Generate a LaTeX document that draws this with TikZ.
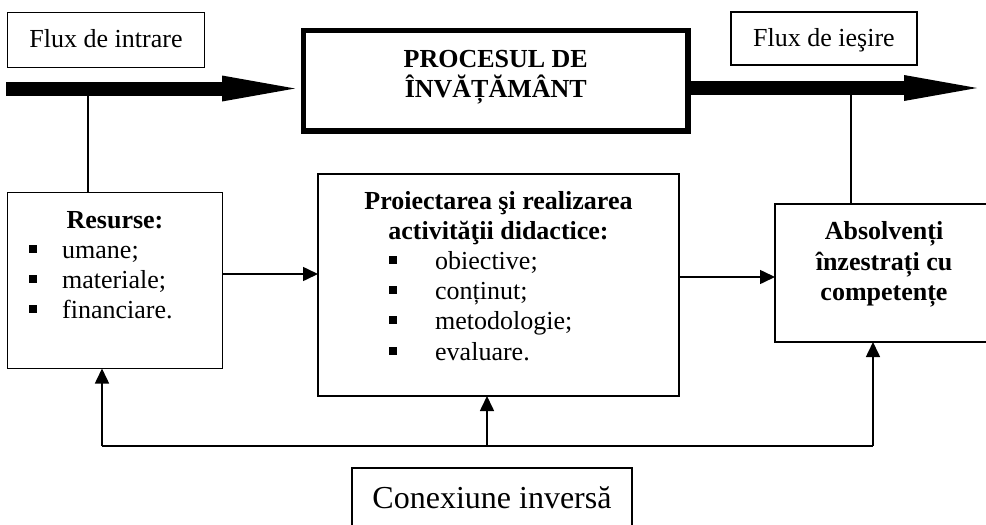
\documentclass[tikz,border=0pt]{standalone}
\usepackage{fontspec}
\setmainfont{Liberation Serif}
\usetikzlibrary{arrows.meta}
\newcommand\sqbul{\rule[5.5pt]{7.5pt}{7.5pt}}
\begin{document}
\begin{tikzpicture}[x=1pt,y=-1pt,
  box/.style={draw,line width=1.6pt,inner sep=0pt,outer sep=0pt},
  bigbox/.style={draw,line width=5.5pt,inner sep=0pt,outer sep=0pt},
  txt/.style={font=\fontsize{26}{30}\selectfont,inner sep=0pt,anchor=base},
  btxt/.style={font=\fontsize{26}{30}\selectfont\bfseries,inner sep=0pt,anchor=base},
  ltxt/.style={font=\fontsize{26}{30}\selectfont,inner sep=0pt,anchor=base west},
  bul/.style={inner sep=0pt,anchor=base west},
  thin/.style={line width=1.6pt},
  arr/.style={line width=1.6pt,-{Triangle[length=15pt,width=14pt]}},
  bigarr/.style={line width=14pt,-{Triangle[length=73pt,width=26pt,line width=0pt]}}]
\useasboundingbox (0,0) rectangle (986,525);

% boxes
\node[box,minimum width=197pt,minimum height=55pt] (fin) at (106,40) {};
\node[box,minimum width=186pt,minimum height=53pt] (fout) at (824,38.5) {};
\node[bigbox,minimum width=384.5pt,minimum height=100.5pt] (proc) at (495.75,80.75) {};
\node[box,minimum width=215pt,minimum height=176pt] (res) at (115,280.5) {};
\node[box,minimum width=361pt,minimum height=222pt] (proj) at (498.5,285) {};
\node[box,minimum width=218pt,minimum height=138pt] (abs) at (884,273) {};
\node[box,minimum width=280pt,minimum height=82pt] (conex) at (492,509) {};

% texts
\node[txt] (tfin) at (106,47) {Flux de intrare};
\node[txt] (tfout) at (824,46) {Flux de ieşire};
\node[btxt] (tp1) at (495.75,67) {PROCESUL DE};
\node[btxt] (tp2) at (495.75,97) {ÎNVĂȚĂMÂNT};

\node[btxt] (tr0) at (115,228) {Resurse:};
\node[bul] (br1) at (29,258) {\sqbul};
\node[ltxt] (tr1) at (62,258) {umane;};
\node[bul] (br2) at (29,288) {\sqbul};
\node[ltxt] (tr2) at (62,288) {materiale;};
\node[bul] (br3) at (29,318) {\sqbul};
\node[ltxt] (tr3) at (62,318) {financiare.};

\node[btxt] (tj1) at (498.5,209) {Proiectarea şi realizarea};
\node[btxt] (tj2) at (498.5,239) {activităţii didactice:};
\node[bul] (bj1) at (389,269) {\sqbul};
\node[ltxt] (tj3) at (435,269) {obiective;};
\node[bul] (bj2) at (389,299) {\sqbul};
\node[ltxt] (tj4) at (435,299) {conținut;};
\node[bul] (bj3) at (389,329) {\sqbul};
\node[ltxt] (tj5) at (435,329) {metodologie;};
\node[bul] (bj4) at (389,360) {\sqbul};
\node[ltxt] (tj6) at (435,360) {evaluare.};

\node[btxt] (ta1) at (884,239) {Absolvenți};
\node[btxt] (ta2) at (884,270) {înzestrați cu};
\node[btxt] (ta3) at (884,300) {competențe};

\node[inner sep=0pt,anchor=base,font=\fontsize{32}{36}\selectfont] (tc) at (492,508) {Conexiune inversă};

% thick flow arrows
\coordinate (start) at (6,88.5);
\coordinate (fend) at (977,88);
\draw[bigarr,shorten >=8.5pt] (start) -- (start -| proc.west);
\draw[bigarr] (proc.east |- fend) -- (fend);

% vertical links to the flow
\coordinate (j1) at (88,95);
\draw[thin] (j1) -- (j1 |- res.north);
\coordinate (j2) at (851,94);
\draw[thin] (j2) -- (j2 |- abs.north);

% horizontal arrows
\draw[arr] (res.east |- 0,274) -- (proj.west |- 0,274);
\draw[arr] (proj.east |- 0,277) -- (abs.west |- 0,277);

% feedback
\coordinate (fbL) at (102,446);
\coordinate (fbM) at (487,446);
\coordinate (fbR) at (873,446);
\draw[thin] (fbL) -- (fbR);
\draw[arr] (fbL) -- (fbL |- res.south);
\draw[arr] (fbM) -- (fbM |- proj.south);
\draw[arr] (fbR) -- (fbR |- abs.south);
\end{tikzpicture}
\end{document}
